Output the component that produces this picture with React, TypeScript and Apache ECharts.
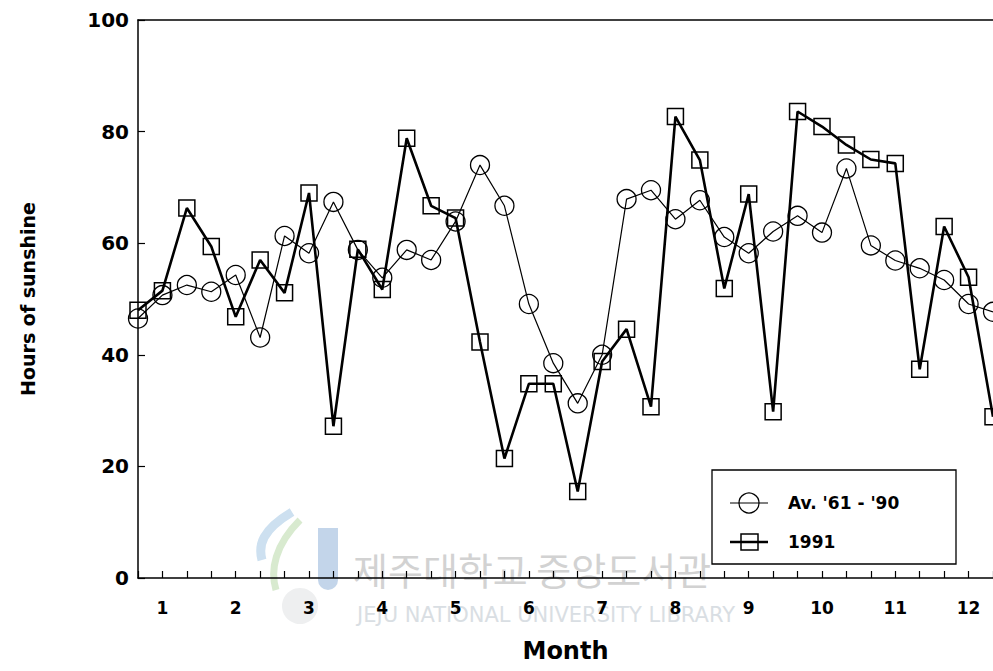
import React, { useEffect, useRef } from "react";
import * as echarts from "echarts";

const months = ["1", "2", "3", "4", "5", "6", "7", "8", "9", "10", "11", "12"];
const dekadSuffix = ["a", "b", "c"];
const dekads = months.flatMap((m) => dekadSuffix.map((d) => m + "-" + d));

const avg6190 = [
  46.5, 50.7, 52.5, 51.3, 54.3, 43.1, 61.3, 58.2, 67.4, 58.8, 53.8, 58.8,
  57.0, 63.9, 74.0, 66.7, 49.1, 38.5, 31.3, 40.0, 67.9, 69.5, 64.3, 67.7,
  61.1, 58.2, 62.1, 64.9, 61.9, 73.4, 59.6, 56.9, 55.5, 53.4, 49.1, 47.7,
];
const y1991 = [
  48.0, 51.5, 66.3, 59.4, 46.8, 57.0, 51.1, 69.0, 27.2, 58.9, 51.7, 78.8,
  66.7, 64.5, 42.3, 21.4, 34.8, 34.8, 15.5, 38.8, 44.6, 30.7, 82.7, 74.9,
  51.9, 68.8, 29.8, 83.6, 80.9, 77.6, 75.0, 74.3, 37.4, 63.0, 53.9, 28.9,
];

const seriesNames = ["Av. '61 - '90", "1991"];
const yTicks = { min: 0, max: 100, step: 20 };
const xTitle = "Month";
const yTitle = "Hours of sunshine";
const watermarkKo = "제주대학교 중앙도서관";
const watermarkEn = "JEJU NATIONAL UNIVERSITY LIBRARY";

const FONT = "'DejaVu Sans', 'Liberation Sans', sans-serif";

export default function App() {
  const ref = useRef<HTMLDivElement>(null);

  useEffect(() => {
    if (!ref.current) return;
    const chart = echarts.init(ref.current, null, { renderer: "svg" });
    const legendX = 712;
    const legendY = 470;
    const option: any = {
      animation: false,
      backgroundColor: "#ffffff",
      grid: { left: 138, top: 20, right: 0, bottom: 93, containLabel: false },
      xAxis: [
        {
          type: "category",
          data: dekads,
          boundaryGap: false,
          name: xTitle,
          nameLocation: "middle",
          nameGap: 61,
          nameTextStyle: { fontSize: 24, fontWeight: "bold", color: "#000", fontFamily: FONT },
          axisLine: { show: true, lineStyle: { color: "#000", width: 1.5 } },
          axisTick: { show: true, inside: true, length: 7, interval: 0, lineStyle: { color: "#000", width: 1.2 } },
          axisLabel: {
            interval: (i: number) => i % 3 === 1,
            formatter: (v: string) => v.split("-")[0],
            margin: 21,
            fontSize: 17,
            fontWeight: "bold",
            color: "#000",
            fontFamily: FONT,
          },
          splitLine: { show: false },
        },
        {
          type: "category",
          data: dekads,
          boundaryGap: false,
          position: "top",
          axisLine: { show: true, lineStyle: { color: "#000", width: 1.5 } },
          axisTick: { show: false },
          axisLabel: { show: false },
          splitLine: { show: false },
        },
      ],
      yAxis: {
        type: "value",
        min: yTicks.min,
        max: yTicks.max,
        interval: yTicks.step,
        name: yTitle,
        nameLocation: "middle",
        nameGap: 101,
        nameTextStyle: { fontSize: 19, fontWeight: "bold", color: "#000", fontFamily: FONT },
        axisLine: { show: true, lineStyle: { color: "#000", width: 1.5 } },
        axisTick: { show: true, inside: true, length: 7, lineStyle: { color: "#000", width: 1.2 } },
        axisLabel: { margin: 9, fontSize: 20, fontWeight: "bold", color: "#000", fontFamily: FONT },
        splitLine: { show: false },
      },
      series: [
        {
          name: seriesNames[0],
          type: "line",
          data: avg6190,
          symbol: "circle",
          symbolSize: 19,
          showAllSymbol: true,
          itemStyle: { color: "rgba(0,0,0,0)", borderColor: "#000", borderWidth: 1.3 },
          lineStyle: { color: "#000", width: 1.2 },
          z: 3,
        },
        {
          name: seriesNames[1],
          type: "line",
          data: y1991,
          symbol: "rect",
          symbolSize: 16,
          showAllSymbol: true,
          itemStyle: { color: "rgba(0,0,0,0)", borderColor: "#000", borderWidth: 1.5 },
          lineStyle: { color: "#000", width: 2.6 },
          z: 4,
        },
      ],
      graphic: [
        // watermark
        {
          type: "text",
          z: -10,
          left: 353,
          top: 549,
          style: { text: watermarkKo, fontSize: 38, fill: "#d2d2d2", fontFamily: "'Noto Sans CJK KR', sans-serif" },
        },
        {
          type: "text",
          z: -10,
          left: 357,
          top: 604,
          style: { text: watermarkEn, fontSize: 21, fill: "#d9dee3", fontFamily: "'DejaVu Sans', sans-serif" },
        },
        {
          type: "rect",
          z: -10,
          shape: { x: 318, y: 528, width: 20, height: 62, r: [0, 0, 10, 10] },
          style: { fill: "#c3d5ea" },
        },
        {
          type: "bezierCurve",
          z: -10,
          shape: { x1: 292, y1: 512, x2: 262, y2: 560, cpx1: 262, cpy1: 530, cpx2: 258, cpy2: 545 },
          style: { stroke: "#cde0f0", lineWidth: 9, fill: "none" },
        },
        {
          type: "bezierCurve",
          z: -10,
          shape: { x1: 300, y1: 520, x2: 276, y2: 590, cpx1: 275, cpy1: 545, cpx2: 270, cpy2: 570 },
          style: { stroke: "#d8eacf", lineWidth: 7, fill: "none" },
        },
        {
          type: "circle",
          z: -10,
          shape: { cx: 300, cy: 606, r: 18 },
          style: { fill: "#eeeff0" },
        },
        // legend
        {
          type: "rect",
          z: 100,
          shape: { x: legendX, y: legendY, width: 244, height: 94 },
          style: { fill: "#fff", stroke: "#000", lineWidth: 1.3 },
        },
        {
          type: "line",
          z: 101,
          shape: { x1: legendX + 18, y1: legendY + 33, x2: legendX + 56, y2: legendY + 33 },
          style: { stroke: "#000", lineWidth: 1.2 },
        },
        {
          type: "circle",
          z: 101,
          shape: { cx: legendX + 37, cy: legendY + 33, r: 10 },
          style: { fill: "none", stroke: "#000", lineWidth: 1.3 },
        },
        {
          type: "text",
          z: 101,
          x: legendX + 76,
          y: legendY + 33,
          style: { text: seriesNames[0], fontSize: 17, fontWeight: "bold", fill: "#000", fontFamily: FONT, textVerticalAlign: "middle" },
        },
        {
          type: "line",
          z: 101,
          shape: { x1: legendX + 18, y1: legendY + 72, x2: legendX + 56, y2: legendY + 72 },
          style: { stroke: "#000", lineWidth: 2.6 },
        },
        {
          type: "rect",
          z: 101,
          shape: { x: legendX + 29, y: legendY + 64, width: 17, height: 16 },
          style: { fill: "none", stroke: "#000", lineWidth: 1.5 },
        },
        {
          type: "text",
          z: 101,
          x: legendX + 76,
          y: legendY + 72,
          style: { text: seriesNames[1], fontSize: 17, fontWeight: "bold", fill: "#000", fontFamily: FONT, textVerticalAlign: "middle" },
        },
      ],
    };
    chart.setOption(option);
    return () => chart.dispose();
  }, []);

  return (
    <div
      ref={ref}
      style={{ position: "fixed", left: 0, top: 0, width: 993, height: 671, background: "#fff" }}
    />
  );
}
